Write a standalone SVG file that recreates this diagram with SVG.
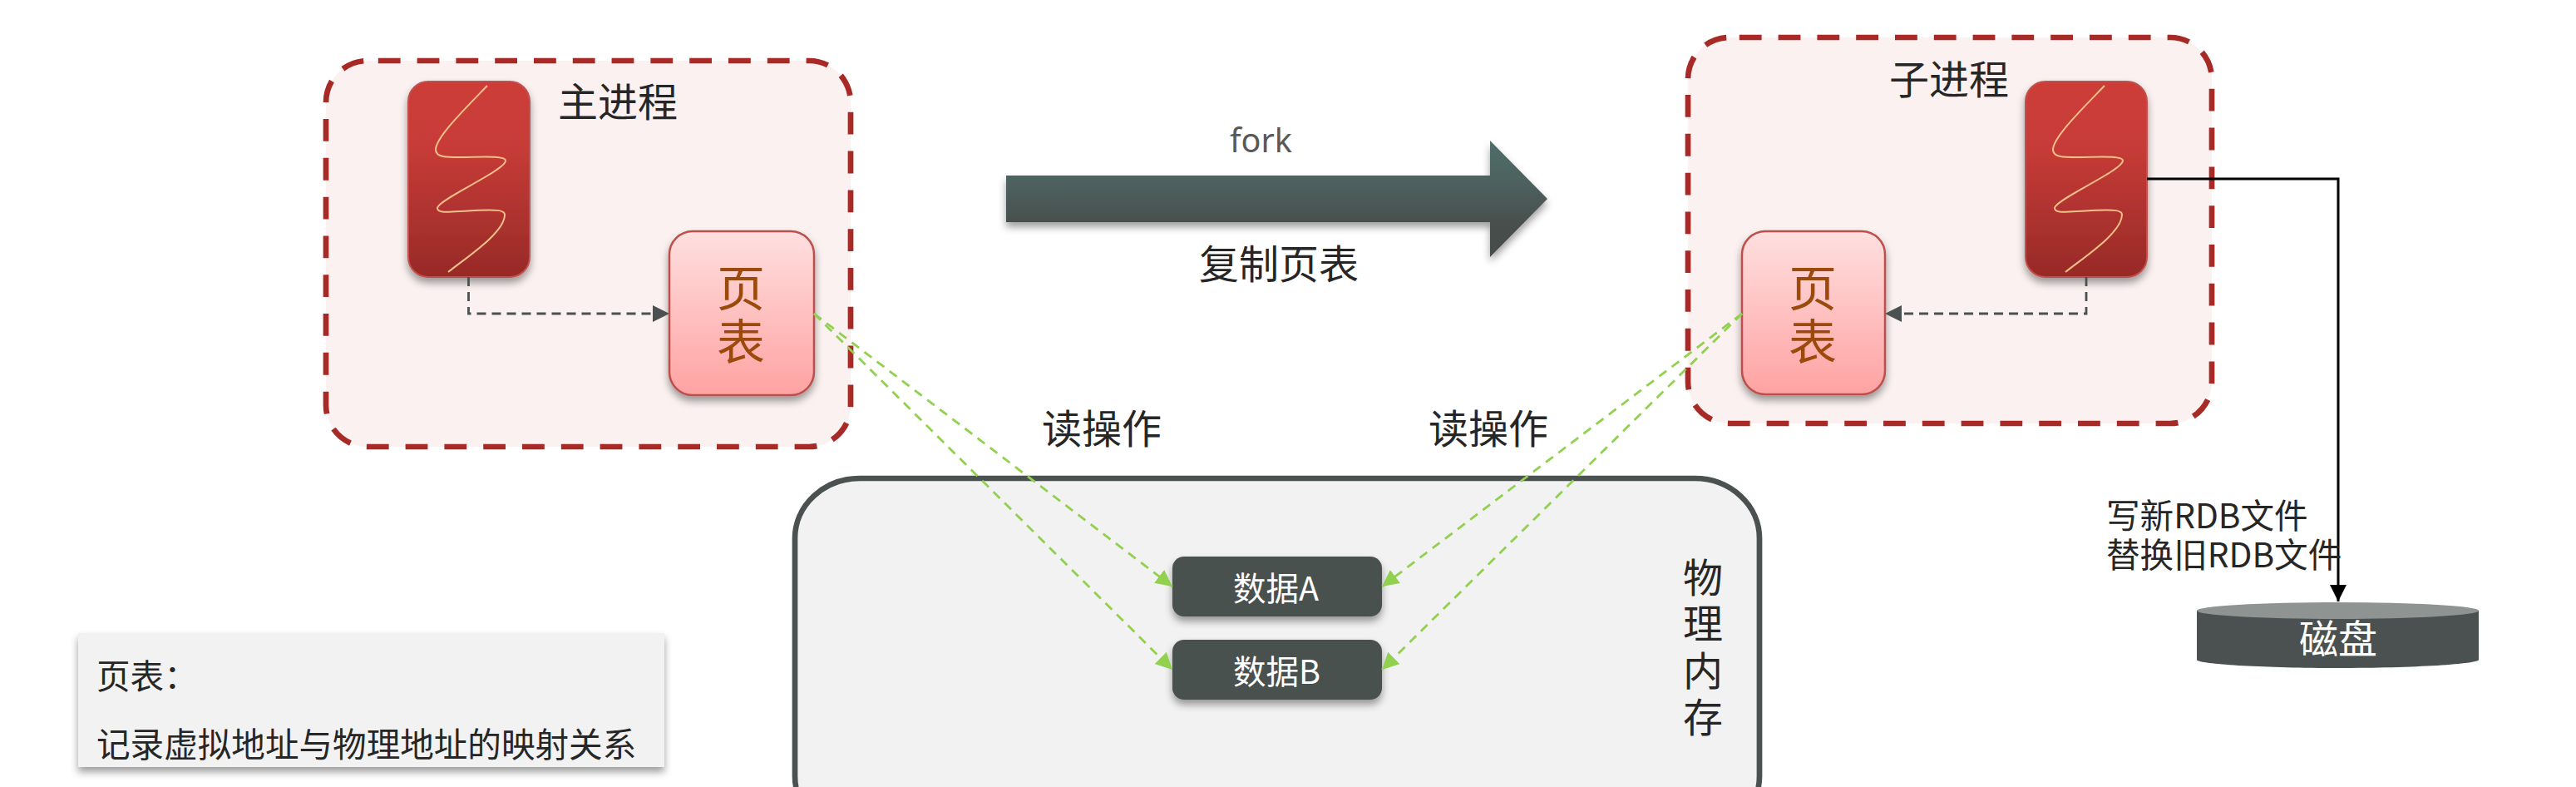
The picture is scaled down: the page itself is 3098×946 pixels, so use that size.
<svg xmlns="http://www.w3.org/2000/svg" width="3098" height="946" viewBox="0 0 3098 946">
<style>
text{font-family:"Noto Sans CJK SC","Noto Sans",sans-serif;fill:#262626}
.t46{font-size:48px}.t40{font-size:40.600px}
.w{fill:#fff}
.pt{font-size:58px;fill:#9c4a0b;text-anchor:middle}
.proc{fill:#faf1f0;stroke:#a82a26;stroke-width:6.7;stroke-dasharray:26.8 20}
.thread{fill:url(#red);stroke:#c0504d;stroke-width:2;filter:url(#sh)}
.tbl{fill:url(#pink);stroke:#bc4f4b;stroke-width:2.5;filter:url(#sh)}
.sq{fill:none;stroke:#f7c08a;stroke-width:2}
.data{fill:#4a5150;filter:url(#sh)}
.dash{fill:none;stroke:#4a5150;stroke-width:2.8;stroke-dasharray:11 7}
.green{fill:none;stroke:#92d050;stroke-width:2.8;stroke-dasharray:11 8;marker-end:url(#ag)}
</style>
<defs>
<linearGradient id="red" x1="0" y1="0" x2="0" y2="1"><stop offset="0" stop-color="#cd3d39"/><stop offset=".35" stop-color="#c63b37"/><stop offset="1" stop-color="#972a27"/></linearGradient>
<linearGradient id="pink" x1="0" y1="0" x2="0" y2="1"><stop offset="0" stop-color="#ffdfdf"/><stop offset="1" stop-color="#ffa2a2"/></linearGradient>
<linearGradient id="fork" gradientUnits="userSpaceOnUse" x1="0" y1="169" x2="0" y2="309"><stop offset="0" stop-color="#4f6d69"/><stop offset=".35" stop-color="#4e625f"/><stop offset=".7" stop-color="#484f4d"/><stop offset="1" stop-color="#454c4b"/></linearGradient>
<filter id="sh" x="-20%" y="-20%" width="140%" height="150%"><feDropShadow dx="0" dy="6" stdDeviation="5" flood-color="#000" flood-opacity=".38"/></filter>
<marker id="ad" markerUnits="userSpaceOnUse" markerWidth="22" markerHeight="22" refX="20" refY="10" orient="auto"><path d="M0 0L20 10L0 20Z" fill="#4a5150"/></marker>
<marker id="ag" markerUnits="userSpaceOnUse" markerWidth="22" markerHeight="22" refX="20" refY="10" orient="auto"><path d="M0 0L20 10L0 20Z" fill="#92d050"/></marker>
<marker id="ab" markerUnits="userSpaceOnUse" markerWidth="22" markerHeight="22" refX="20" refY="10" orient="auto"><path d="M0 0L20 10L0 20Z" fill="#000"/></marker>
<path id="squiggle" d="M586 103C560 130 524 165 524 180C524 190 540 189 560 189C590 188 608 188 608 193C608 205 526 240 526 250C526 258 545 254 570 253C595 252 607 252 607 258C607 280 560 310 539 327"/>
</defs>
<rect width="3098" height="946" fill="#fff"/>
<g id="memory"><rect x="956" y="575" width="1160" height="430" rx="78" ry="72" fill="#f2f2f2" stroke="#4a5150" stroke-width="6.7"/>
<text class="t46" x="2048" y="712" text-anchor="middle">物</text><text class="t46" x="2048" y="767" text-anchor="middle">理</text><text class="t46" x="2048" y="824" text-anchor="middle">内</text><text class="t46" x="2048" y="880" text-anchor="middle">存</text></g>
<g id="main-process"><rect class="proc" x="392" y="73" width="631" height="464" rx="50" ry="50" stroke-dashoffset="34"/>
<text class="t46" x="671" y="140">主进程</text></g>
<g id="child-process"><rect class="proc" x="2030" y="45" width="630" height="464" rx="50" ry="50" stroke-dashoffset="35"/>
<text class="t46" x="2272" y="113">子进程</text></g>
<g id="main-thread"><rect class="thread" x="491" y="98" width="146" height="235" rx="24"/><use href="#squiggle" class="sq"/></g>
<g id="child-thread"><rect class="thread" x="2436" y="98" width="146" height="235" rx="24"/><use href="#squiggle" class="sq" transform="translate(1945 0)"/></g>
<g id="main-table"><rect class="tbl" x="805" y="278" width="174" height="197" rx="28"/><text class="pt" x="891" y="368">页</text><text class="pt" x="891" y="432">表</text></g>
<g id="child-table"><rect class="tbl" x="2095" y="278" width="172" height="196" rx="28"/><text class="pt" x="2180" y="368">页</text><text class="pt" x="2180" y="432">表</text></g>
<g id="data-a"><rect class="data" x="1410" y="669" width="252" height="72" rx="14"/><text class="w" font-size="39.500" x="1483" y="722">数据A</text></g>
<g id="data-b"><rect class="data" x="1410" y="769" width="252" height="72" rx="14"/><text class="w" font-size="39.500" x="1483" y="822">数据B</text></g>
<g id="disk"><path d="M2642 734V793C2642 798 2718 803 2811 803S2981 798 2981 793V734Z" fill="#4a5150"/><ellipse cx="2811.5" cy="734" rx="169.500" ry="10" fill="#8f9391"/><text class="w" x="2765" y="785" font-size="47">磁盘</text></g>
<g id="legend"><rect x="94" y="761" width="705" height="161" fill="#f2f2f2" filter="url(#sh)"/><text class="t40" x="116" y="828">页表：</text><text class="t40" x="116" y="910">记录虚拟地址与物理地址的映射关系</text></g>
<g id="fork-arrow"><path d="M1210 211H1792V169L1861 239L1792 309V267H1210Z" fill="url(#fork)" filter="url(#sh)"/></g>
<g id="connectors">
<path class="dash" d="M563.500 333V377H805" marker-end="url(#ad)"/>
<path class="dash" d="M2509 333V377H2267" marker-end="url(#ad)"/>
<path class="green" d="M979 377L1410 705"/>
<path class="green" d="M979 377L1410 805"/>
<path class="green" d="M2095 377L1662 705"/>
<path class="green" d="M2095 377L1662 805"/>
<path d="M2582 215H2812V723" fill="none" stroke="#000" stroke-width="3" marker-end="url(#ab)"/>
</g>
<g id="labels">
<text x="1479" y="183" font-size="39.500" style="font-family:'Noto Sans',sans-serif;fill:#595959">fork</text>
<text class="t46" x="1442" y="335">复制页表</text>
<text class="t46" x="1253" y="533">读操作</text>
<text class="t46" x="1718" y="533">读操作</text>
<text class="t40" x="2533" y="635">写新RDB文件</text>
<text class="t40" x="2533" y="682">替换旧RDB文件</text>
</g>
</svg>
